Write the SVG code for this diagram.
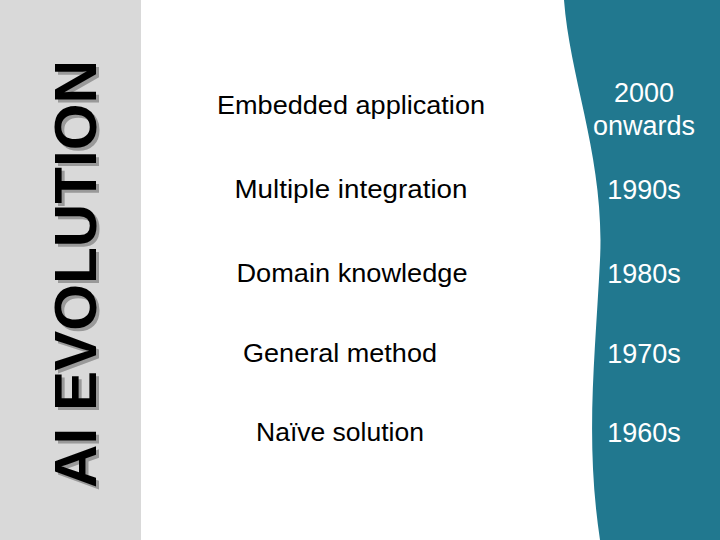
<svg xmlns="http://www.w3.org/2000/svg" width="720" height="540" viewBox="0 0 720 540">
<style>
.l{font-family:"Liberation Sans",Arial,sans-serif;font-size:26px;fill:#000;text-anchor:middle}
.r{font-family:"Liberation Sans",Arial,sans-serif;font-size:27px;fill:#fff;text-anchor:middle}
.t{font-family:"Liberation Sans",Arial,sans-serif;font-size:60px;font-weight:bold}
</style>
<rect width="720" height="540" fill="#fff"/>
<rect width="141" height="540" fill="#d9d9d9"/>
<g id="title">
<text class="t" transform="translate(99,491) rotate(-90)" fill="#999" textLength="428" lengthAdjust="spacingAndGlyphs">AI EVOLUTION</text>
<text class="t" transform="translate(96,488) rotate(-90)" fill="#000" textLength="428" lengthAdjust="spacingAndGlyphs">AI EVOLUTION</text>
</g>
<path id="band" d="M564,0 C570,80 605,160 600,260 C595,360 585,440 600,540 L720,540 L720,0 Z" fill="#21788f"/>
<g id="left">
<text class="l" x="351" y="114" textLength="268" lengthAdjust="spacingAndGlyphs">Embedded application</text>
<text class="l" x="351" y="198" textLength="233" lengthAdjust="spacingAndGlyphs">Multiple integration</text>
<text class="l" x="352" y="282" textLength="231" lengthAdjust="spacingAndGlyphs">Domain knowledge</text>
<text class="l" x="340" y="362" textLength="194" lengthAdjust="spacingAndGlyphs">General method</text>
<text class="l" x="340" y="441" textLength="168" lengthAdjust="spacingAndGlyphs">Naïve solution</text>
</g>
<g id="right">
<text class="r" x="644" y="102">2000</text>
<text class="r" x="644" y="135">onwards</text>
<text class="r" x="644" y="199">1990s</text>
<text class="r" x="644" y="283">1980s</text>
<text class="r" x="644" y="363">1970s</text>
<text class="r" x="644" y="442">1960s</text>
</g>
</svg>
